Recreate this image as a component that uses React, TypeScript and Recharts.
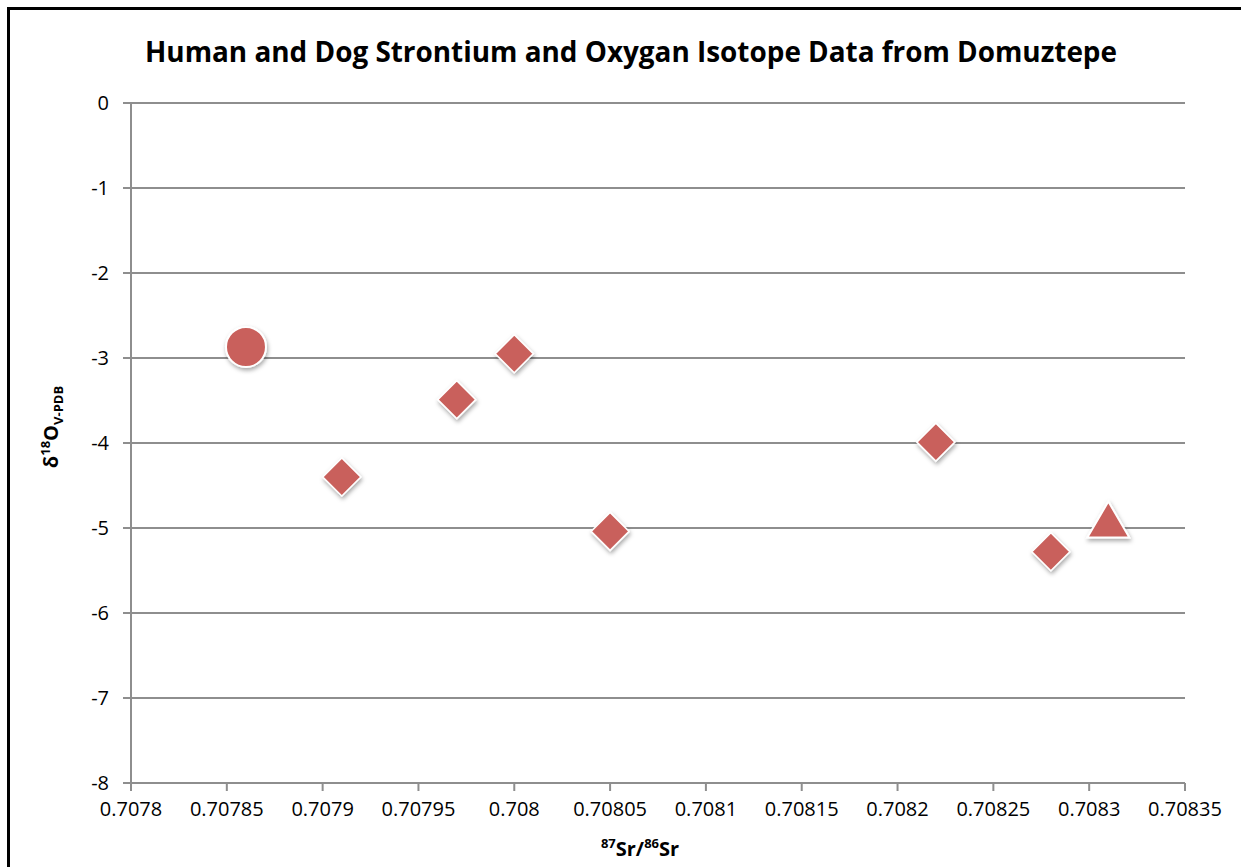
import React from 'react';
import { ScatterChart, Scatter, XAxis, YAxis, CartesianGrid } from 'recharts';

// data
const humanPoints = [{ x: 0.70786, y: -2.87 }];
const toothPoints = [
  { x: 0.70791, y: -4.4 },
  { x: 0.70797, y: -3.49 },
  { x: 0.708, y: -2.95 },
  { x: 0.70805, y: -5.04 },
  { x: 0.70822, y: -3.99 },
  { x: 0.70828, y: -5.28 },
];
const dogPoints = [{ x: 0.70831, y: -4.9 }];

const xTicks = [0.7078, 0.70785, 0.7079, 0.70795, 0.708, 0.70805, 0.7081, 0.70815, 0.7082, 0.70825, 0.7083, 0.70835];
const yTicks = [-8, -7, -6, -5, -4, -3, -2, -1, 0];

const W = 1241;
const H = 867;
const FILL = '#c9605b';
const GRID = '#8e8e8e';
const FONT = '"Open Sans", sans-serif';

const Circle = (props: any) => {
  const { cx, cy } = props;
  return <circle cx={cx} cy={cy} r={20} fill={FILL} stroke="#fff" strokeWidth={2} filter="url(#mkShadow)" />;
};

const Diamond = (props: any) => {
  const { cx, cy } = props;
  const r = 19;
  return (
    <path
      d={`M${cx},${cy - r} L${cx + r},${cy} L${cx},${cy + r} L${cx - r},${cy} Z`}
      fill={FILL}
      stroke="#fff"
      strokeWidth={1.5}
      filter="url(#mkShadow)"
    />
  );
};

const Triangle = (props: any) => {
  const { cx, cy } = props;
  return (
    <path
      d={`M${cx},${cy - 18} L${cx + 21},${cy + 18} L${cx - 21},${cy + 18} Z`}
      fill={FILL}
      stroke="#fff"
      strokeWidth={2}
      filter="url(#mkShadow)"
    />
  );
};

export default function App() {
  return (
    <div style={{ position: 'absolute', left: 0, top: 0, width: W, height: H, background: '#fff', overflow: 'hidden' }}>
      <svg width={0} height={0} style={{ position: 'absolute' }}>
        <defs>
          <filter id="mkShadow" x="-50%" y="-50%" width="200%" height="200%">
            <feDropShadow dx={1} dy={2.5} stdDeviation={2} floodColor="#000" floodOpacity={0.35} />
          </filter>
        </defs>
      </svg>

      {/* chart frame, only top and left edges visible in the crop */}
      <div
        style={{
          position: 'absolute',
          left: 7,
          top: 7,
          width: W,
          height: H,
          borderLeft: '3px solid #000',
          borderTop: '3px solid #000',
        }}
      />

      <div style={{ position: 'absolute', left: 0, top: 0 }}>
        <ScatterChart width={W} height={H} margin={{ top: 103, right: 56, bottom: 54, left: 71 }}>
          <CartesianGrid vertical={false} stroke={GRID} strokeWidth={2} />
          <XAxis
            type="number"
            dataKey="x"
            domain={[0.7078, 0.70835]}
            ticks={xTicks}
            interval={0}
            allowDataOverflow
            height={30}
            tickSize={8}
            tickMargin={11}
            axisLine={{ stroke: GRID, strokeWidth: 2 }}
            tickLine={{ stroke: GRID, strokeWidth: 2 }}
            tick={{ fill: '#000', fontSize: 20, fontFamily: FONT }}
            tickFormatter={(v: number) => String(v)}
          />
          <YAxis
            type="number"
            dataKey="y"
            domain={[-8, 0]}
            ticks={yTicks}
            interval={0}
            width={60}
            tickSize={8}
            tickMargin={14}
            axisLine={{ stroke: GRID, strokeWidth: 2 }}
            tickLine={{ stroke: GRID, strokeWidth: 2 }}
            tick={{ fill: '#000', fontSize: 20, fontFamily: FONT }}
          />
          <Scatter data={humanPoints} shape={Circle} isAnimationActive={false} />
          <Scatter data={toothPoints} shape={Diamond} isAnimationActive={false} />
          <Scatter data={dogPoints} shape={Triangle} isAnimationActive={false} />
        </ScatterChart>
      </div>

      <svg width={W} height={H} style={{ position: 'absolute', left: 0, top: 0, pointerEvents: 'none' }}>
        <text
          x={631}
          y={62}
          textAnchor="middle"
          fontFamily={FONT}
          fontWeight={700}
          fontSize={28}
          textLength={972}
          lengthAdjust="spacingAndGlyphs"
          fill="#000"
        >
          Human and Dog Strontium and Oxygan Isotope Data from Domuztepe
        </text>

        <text
          x={58}
          y={427}
          transform="rotate(-90 58 427)"
          textAnchor="middle"
          fontFamily={FONT}
          fontWeight={700}
          fontSize={20}
          fill="#000"
        >
          δ
          <tspan fontSize={13} dy={-8}>18</tspan>
          <tspan fontSize={20} dy={8}>O</tspan>
          <tspan fontSize={13} dy={5}>V-PDB</tspan>
        </text>

        <text x={640} y={856} textAnchor="middle" fontFamily={FONT} fontWeight={700} fontSize={20} fill="#000">
          <tspan fontSize={13} dy={-8}>87</tspan>
          <tspan fontSize={20} dy={8}>Sr/</tspan>
          <tspan fontSize={13} dy={-8}>86</tspan>
          <tspan fontSize={20} dy={8}>Sr</tspan>
        </text>
      </svg>
    </div>
  );
}
